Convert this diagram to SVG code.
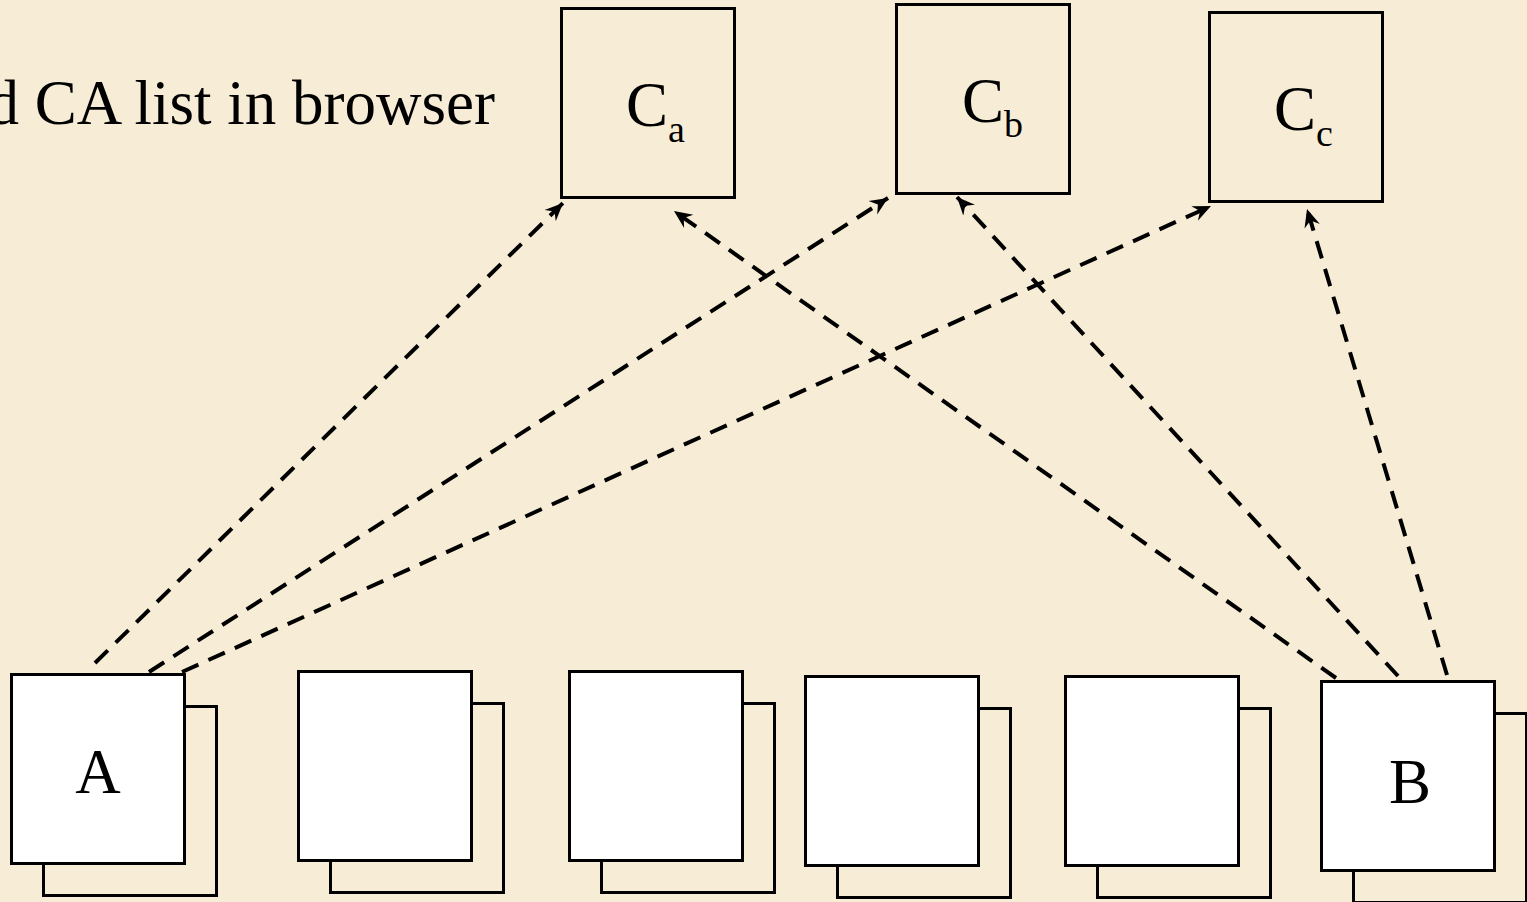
<svg xmlns="http://www.w3.org/2000/svg" width="1527" height="902" viewBox="0 0 1527 902">
<style>
.bg{fill:#F7EDD6}
.back{fill:#F7EDD6;stroke:#000;stroke-width:3}
.front{fill:#fff;stroke:#000;stroke-width:3}
.ca{fill:none;stroke:#000;stroke-width:3}
.lbl{font-family:"Liberation Serif","Times New Roman",serif;font-size:63px;fill:#000}
.sub{font-size:38px}
.conn{fill:none;stroke:#000;stroke-width:4;stroke-dasharray:18 11;marker-end:url(#arr)}
</style>
<defs>
<marker id="arr" viewBox="-18 -9 20 18" markerWidth="20" markerHeight="18" refX="0" refY="0" orient="auto" markerUnits="userSpaceOnUse">
<path d="M0,0 L-18,-8 L-12,0 L-18,8 Z" fill="#000"/>
</marker>
</defs>
<rect class="bg" x="0" y="0" width="1527" height="902"/>
<text class="lbl" x="495" y="124" text-anchor="end">d CA list in browser</text>
<g id="Ca"><rect class="ca" x="561.5" y="8.5" width="173" height="189"/><text class="lbl" x="626" y="126">C<tspan class="sub" y="142">a</tspan></text></g>
<g id="Cb"><rect class="ca" x="896.5" y="4.5" width="173" height="189"/><text class="lbl" x="962" y="122">C<tspan class="sub" y="137">b</tspan></text></g>
<g id="Cc"><rect class="ca" x="1209.5" y="12.5" width="173" height="189"/><text class="lbl" x="1274" y="130">C<tspan class="sub" y="146">c</tspan></text></g>
<g id="A"><rect class="back" x="43.5" y="706.5" width="173" height="189"/><rect class="front" x="11.5" y="674.5" width="173" height="189"/><text class="lbl" x="98" y="793" text-anchor="middle">A</text></g>
<g id="n2"><rect class="back" x="330.5" y="703.5" width="173" height="189"/><rect class="front" x="298.5" y="671.5" width="173" height="189"/></g>
<g id="n3"><rect class="back" x="601.5" y="703.5" width="173" height="189"/><rect class="front" x="569.5" y="671.5" width="173" height="189"/></g>
<g id="n4"><rect class="back" x="837.5" y="708.5" width="173" height="189"/><rect class="front" x="805.5" y="676.5" width="173" height="189"/></g>
<g id="n5"><rect class="back" x="1097.5" y="708.5" width="173" height="189"/><rect class="front" x="1065.5" y="676.5" width="173" height="189"/></g>
<g id="B"><rect class="back" x="1353.5" y="713.5" width="173" height="189"/><rect class="front" x="1321.5" y="681.5" width="173" height="189"/><text class="lbl" x="1410" y="803" text-anchor="middle">B</text></g>
<g id="connectors">
<line class="conn" x1="95" y1="663" x2="563" y2="203"/>
<line class="conn" x1="149" y1="672" x2="888" y2="198"/>
<line class="conn" x1="182" y1="672" x2="1211" y2="206"/>
<line class="conn" x1="1336" y1="678" x2="674" y2="211"/>
<line class="conn" x1="1398" y1="676" x2="957" y2="197"/>
<line class="conn" x1="1447" y1="675" x2="1307" y2="209"/>
</g>
</svg>
